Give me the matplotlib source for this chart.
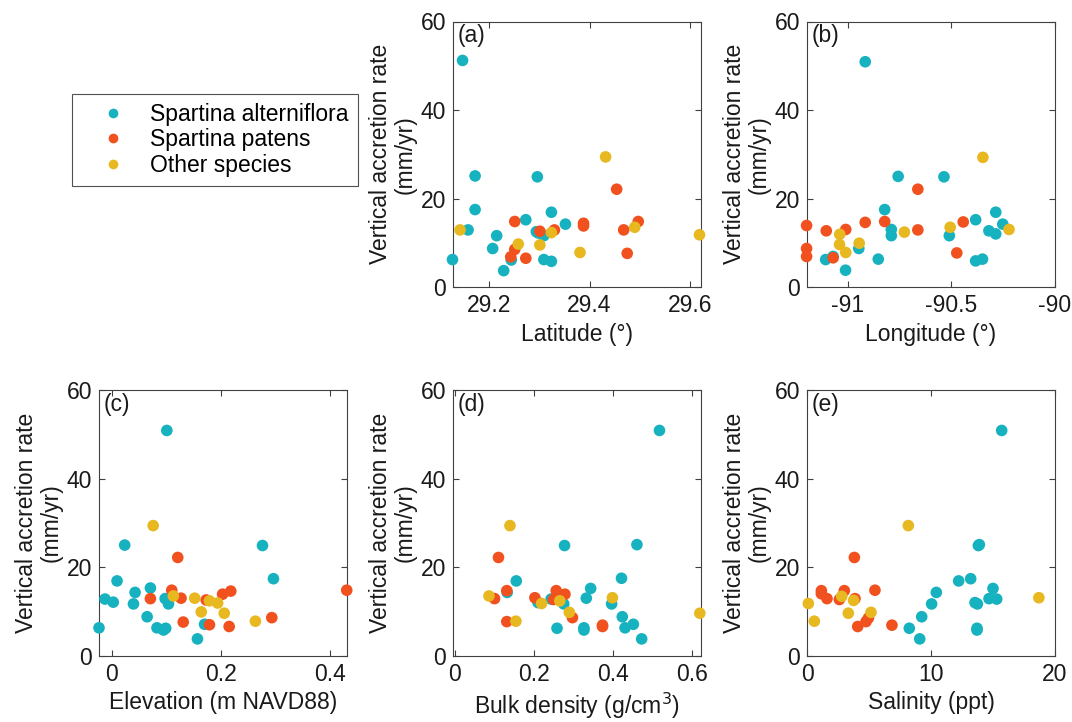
import matplotlib
matplotlib.use("Agg")
import matplotlib.pyplot as plt
from matplotlib.lines import Line2D

plt.rcParams['font.family'] = ['Liberation Sans', 'DejaVu Sans']
plt.rcParams['axes.unicode_minus'] = False

# colours for the three species groups
C_ALT = '#17b2bf'
C_PAT = '#f1511e'
C_OTH = '#e8b820'

# (a) latitude
lat_alt = [29.147, 29.127, 29.172, 29.172, 29.158, 29.215, 29.207, 29.229, 29.244, 29.273,
           29.296, 29.294, 29.298, 29.309, 29.309, 29.324, 29.324, 29.352]
rate_lat_alt = [51.2, 6.2, 25.1, 17.5, 12.9, 11.6, 8.7, 3.7, 6.1, 15.2,
                24.9, 12.5, 12.2, 11.6, 6.2, 5.8, 16.9, 14.2]
lat_pat = [29.251, 29.251, 29.243, 29.273, 29.301, 29.330, 29.388, 29.388, 29.454, 29.468, 29.497, 29.475]
rate_lat_pat = [14.8, 8.5, 6.8, 6.5, 12.6, 12.9, 14.4, 13.8, 22.1, 12.9, 14.8, 7.6]
lat_oth = [29.142, 29.258, 29.301, 29.324, 29.381, 29.432, 29.490, 29.619]
rate_lat_oth = [12.9, 9.7, 9.5, 12.3, 7.8, 29.4, 13.5, 11.8]

# (b) longitude
lon_alt = [-90.916, -91.107, -91.071, -91.011, -90.947, -90.853, -90.822, -90.790, -90.790, -90.757,
           -90.536, -90.510, -90.383, -90.383, -90.350, -90.319, -90.286, -90.286, -90.252]
rate_lon_alt = [50.9, 6.2, 6.9, 3.8, 8.7, 6.3, 17.5, 13.0, 11.6, 25.0,
                24.9, 11.6, 15.2, 5.9, 6.3, 12.7, 12.0, 16.9, 14.2]
lon_pat = [-91.199, -91.199, -91.199, -91.104, -91.071, -91.010, -90.916, -90.822, -90.662, -90.662, -90.443, -90.474]
rate_lon_pat = [13.9, 8.7, 6.9, 12.7, 6.6, 13.0, 14.6, 14.8, 22.1, 12.9, 14.7, 7.7]
lon_oth = [-91.039, -91.040, -91.010, -90.945, -90.727, -90.506, -90.348, -90.222]
rate_lon_oth = [11.9, 9.6, 7.8, 9.9, 12.4, 13.5, 29.3, 13.0]

# (c) elevation
elev_alt = [0.101, -0.023, -0.012, 0.003, 0.010, 0.024, 0.040, 0.043, 0.065, 0.071,
            0.083, 0.095, 0.099, 0.098, 0.104, 0.157, 0.170, 0.276, 0.296]
rate_elev_alt = [50.9, 6.3, 12.8, 12.1, 16.9, 25.0, 11.7, 14.3, 8.8, 15.3,
                 6.3, 5.8, 6.2, 12.9, 11.7, 3.8, 7.1, 24.9, 17.4]
elev_pat = [0.071, 0.110, 0.121, 0.127, 0.131, 0.173, 0.179, 0.203, 0.218, 0.215, 0.293, 0.430]
rate_elev_pat = [12.9, 14.8, 22.2, 13.0, 7.6, 12.6, 7.0, 13.9, 14.6, 6.6, 8.6, 14.8]
elev_oth = [0.076, 0.113, 0.152, 0.164, 0.179, 0.194, 0.206, 0.263]
rate_elev_oth = [29.4, 13.5, 13.0, 9.9, 12.4, 11.9, 9.6, 7.8]

# (d) bulk density
bd_alt = [0.518, 0.133, 0.156, 0.211, 0.244, 0.259, 0.276, 0.278, 0.327, 0.327,
          0.333, 0.344, 0.397, 0.422, 0.424, 0.431, 0.452, 0.461, 0.473]
rate_bd_alt = [50.9, 14.3, 16.9, 12.0, 12.8, 6.2, 11.7, 24.9, 6.3, 5.8,
               13.0, 15.2, 11.7, 17.5, 8.8, 6.3, 7.1, 25.1, 3.8]
bd_pat = [0.101, 0.111, 0.132, 0.132, 0.203, 0.250, 0.257, 0.261, 0.279, 0.298, 0.374, 0.374]
rate_bd_pat = [12.9, 22.2, 14.7, 7.7, 13.1, 12.7, 14.7, 12.8, 13.9, 8.6, 6.9, 6.6]
bd_oth = [0.087, 0.140, 0.155, 0.220, 0.266, 0.290, 0.399, 0.620]
rate_bd_oth = [13.5, 29.4, 7.8, 11.8, 12.4, 9.8, 13.1, 9.6]

# (e) salinity
sal_alt = [15.7, 8.25, 9.09, 9.25, 10.05, 10.43, 12.23, 13.2, 13.55, 13.74,
           13.71, 13.71, 13.82, 13.9, 14.68, 15.0, 15.3]
rate_sal_alt = [50.9, 6.2, 3.8, 8.8, 11.7, 14.3, 16.9, 17.4, 12.0, 11.7,
                6.2, 5.8, 24.9, 25.1, 12.9, 15.2, 12.8]
sal_pat = [1.16, 1.16, 1.61, 2.61, 3.01, 3.82, 3.87, 4.09, 4.76, 4.95, 5.48, 6.85]
rate_sal_pat = [14.7, 14.0, 12.9, 12.7, 14.7, 22.2, 12.9, 6.6, 7.7, 8.5, 14.8, 6.9]
sal_oth = [0.11, 0.59, 2.8, 3.33, 3.76, 5.16, 8.17, 18.7]
rate_sal_oth = [11.8, 7.8, 13.4, 9.6, 12.5, 9.8, 29.4, 13.1]

labels = ['Spartina alterniflora', 'Spartina patens', 'Other species']

FS = 16.5
W, H = 1072, 722
fig = plt.figure(figsize=(W / 100, H / 100), dpi=100)

def ax_at(left, bottom_px):
    # left/bottom of the plot box in pixels
    return fig.add_axes([left / W, (H - bottom_px) / H, 248 / W, 265.5 / H])

panels = [
    (ax_at(453, 287), '(a)', 'Latitude (°)', (29.128, 29.622), [29.2, 29.4, 29.6],
     [(lat_alt, rate_lat_alt), (lat_pat, rate_lat_pat), (lat_oth, rate_lat_oth)]),
    (ax_at(807, 287), '(b)', 'Longitude (°)', (-91.197, -90.0), [-91, -90.5, -90],
     [(lon_alt, rate_lon_alt), (lon_pat, rate_lon_pat), (lon_oth, rate_lon_oth)]),
    (ax_at(99, 655.7), '(c)', 'Elevation (m NAVD88)', (-0.023, 0.4305), [0, 0.2, 0.4],
     [(elev_alt, rate_elev_alt), (elev_pat, rate_elev_pat), (elev_oth, rate_elev_oth)]),
    (ax_at(453, 655.7), '(d)', 'Bulk density (g/cm$^3$)', (-0.004, 0.623), [0, 0.2, 0.4, 0.6],
     [(bd_alt, rate_bd_alt), (bd_pat, rate_bd_pat), (bd_oth, rate_bd_oth)]),
    (ax_at(807, 655.7), '(e)', 'Salinity (ppt)', (0, 20), [0, 10, 20],
     [(sal_alt, rate_sal_alt), (sal_pat, rate_sal_pat), (sal_oth, rate_sal_oth)]),
]

cols = [C_ALT, C_PAT, C_OTH]
for ax, tag, xlab, xl, xt, series in panels:
    for (x, y), c in zip(series, cols):
        ax.scatter(x, y, s=70, color=c, edgecolors='none', zorder=3, clip_on=False)
    ax.set_xlim(*xl)
    ax.set_ylim(0, 60)
    ax.set_xticks(xt)
    ax.set_xticklabels([f'{t:g}' for t in xt])
    ax.set_yticks([0, 20, 40, 60])
    ax.tick_params(direction='in', top=True, right=True, labelsize=FS, length=4,
                   color='#404040', labelcolor='#1a1a1a', pad=5)
    for s in ax.spines.values():
        s.set_color('#404040')
        s.set_linewidth(0.8)
    ax.set_xlabel(xlab, fontsize=FS, color='#1a1a1a', labelpad=4)
    ax.set_ylabel('Vertical accretion rate\n(mm/yr)', fontsize=FS, color='#1a1a1a', labelpad=3,
                  linespacing=1.1)
    ax.text(0.02, 0.99, tag, transform=ax.transAxes, ha='left', va='top', fontsize=FS, color='#1a1a1a')

handles = [Line2D([], [], ls='none', marker='o', markersize=7, color=c, markeredgewidth=0) for c in cols]
leg = fig.legend(handles, labels, loc='upper left', bbox_to_anchor=(72 / W, 1 - 94 / H),
                 frameon=True, fancybox=False, edgecolor='#262626', fontsize=FS,
                 handletextpad=0.2, borderpad=0.4, labelspacing=0.1, handlelength=2.8,
                 borderaxespad=0)
leg.get_frame().set_linewidth(0.8)

fig.savefig('out.png', dpi=100, facecolor='white')
